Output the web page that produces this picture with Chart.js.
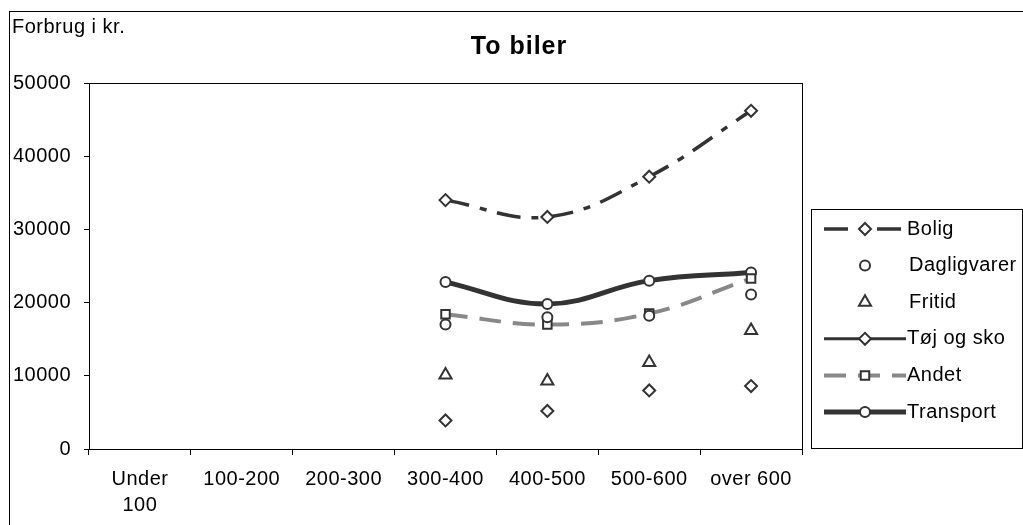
<!DOCTYPE html>
<html>
<head>
<meta charset="utf-8">
<script src="https://cdn.jsdelivr.net/npm/chart.js@4"></script>
<style>
  html, body { margin: 0; padding: 0; background: #fff; }
  #wrap { width: 1023px; height: 525px; position: relative; }
</style>
</head>
<body>
<div id="wrap"><canvas id="chart"></canvas></div>
<script>
const categories = [['Under', '100'], '100-200', '200-300', '300-400', '400-500', '500-600', 'over 600'];
const yTicks = [0, 10000, 20000, 30000, 40000, 50000];

const bolig       = [null, null, null, 34000, 31700, 37200, 46200];
const dagligvarer = [null, null, null, 17000, 18000, 18200, 21100];
const fritid      = [null, null, null, 10100, 9300, 11800, 16200];
const tojOgSko    = [null, null, null, 3900, 5200, 8000, 8600];
const andet       = [null, null, null, 18400, 17000, 18500, 23300];
const transport   = [null, null, null, 22800, 19800, 23000, 24100];

const FONT = '"Liberation Sans", Arial, sans-serif';
const INK = '#333';

function marker(style, radius) {
  return {
    pointStyle: style,
    pointRadius: radius,
    pointHoverRadius: radius,
    pointBackgroundColor: '#fff',
    pointBorderColor: INK,
    pointBorderWidth: 2
  };
}

const datasets = [
  Object.assign({ label: 'Bolig', data: bolig, borderColor: INK, borderWidth: 3.5,
    borderDash: [24, 11, 7, 11], tension: 0.4 }, marker('rectRot', 6)),
  Object.assign({ label: 'Dagligvarer', data: dagligvarer, showLine: false }, marker('circle', 5)),
  Object.assign({ label: 'Fritid', data: fritid, showLine: false }, marker('triangle', 7)),
  Object.assign({ label: 'Tøj og sko', data: tojOgSko, showLine: false, borderColor: INK,
    borderWidth: 3 }, marker('rectRot', 6)),
  Object.assign({ label: 'Andet', data: andet, borderColor: '#888', borderWidth: 4,
    borderDash: [22, 12], tension: 0.4 }, marker('rect', 6)),
  Object.assign({ label: 'Transport', data: transport, borderColor: INK, borderWidth: 5,
    tension: 0.4 }, marker('circle', 5))
];

// legend samples: which entries get a line next to the marker
const legendLine = [true, false, false, true, true, true];

// slightly wider letter spacing for all canvas text
const spacing = {
  id: 'spacing',
  beforeUpdate(chart) { chart.ctx.letterSpacing = '0.5px'; },
  beforeDraw(chart) { chart.ctx.letterSpacing = '0.5px'; }
};

// frame, plot box, title, axis caption and the legend box
const decorations = {
  id: 'decorations',
  beforeDatasetsDraw(chart) {
    const { ctx, chartArea: a } = chart;
    ctx.save();
    ctx.strokeStyle = '#000';
    ctx.lineWidth = 1;
    ctx.strokeRect(Math.round(a.left) + 0.5, Math.round(a.top) + 0.5,
      Math.round(a.right - a.left), Math.round(a.bottom - a.top));
    ctx.restore();
  },
  afterDraw(chart) {
    const { ctx } = chart;
    ctx.save();
    ctx.strokeStyle = '#000';
    ctx.lineWidth = 1;
    ctx.strokeRect(9.5, 11.5, 1100, 600);

    ctx.fillStyle = '#000';
    ctx.textBaseline = 'middle';
    ctx.textAlign = 'left';
    ctx.font = '20px ' + FONT;
    ctx.letterSpacing = '0.5px';
    ctx.fillText('Forbrug i kr.', 12, 27);
    ctx.textAlign = 'center';
    ctx.font = 'bold 25px ' + FONT;
    ctx.letterSpacing = '1px';
    ctx.fillText('To biler', 519, 47);

    // legend
    const lx = 811, ly = 209, lw = 211, lh = 239;
    ctx.strokeRect(lx + 0.5, ly + 0.5, lw, lh);
    ctx.font = '20px ' + FONT;
    ctx.letterSpacing = '0.5px';
    ctx.textAlign = 'left';
    chart.data.datasets.forEach((ds, i) => {
      const y = 229 + i * 36.6;
      if (legendLine[i]) {
        ctx.save();
        ctx.strokeStyle = ds.borderColor;
        ctx.lineWidth = ds.borderWidth;
        ctx.setLineDash(ds.borderDash || []);
        ctx.beginPath();
        ctx.moveTo(824, y);
        ctx.lineTo(906, y);
        ctx.stroke();
        ctx.restore();
      }
      ctx.save();
      ctx.fillStyle = '#fff';
      ctx.strokeStyle = INK;
      ctx.lineWidth = 2;
      Chart.helpers.drawPoint(ctx, { pointStyle: ds.pointStyle, radius: ds.pointRadius,
        rotation: 0, borderWidth: 2 }, 865, y);
      ctx.restore();
      ctx.fillStyle = '#000';
      ctx.fillText(ds.label, legendLine[i] ? 907 : 909, y);
    });
    ctx.restore();
  }
};

new Chart(document.getElementById('chart'), {
  type: 'line',
  data: { labels: categories, datasets: datasets },
  plugins: [spacing, decorations],
  options: {
    responsive: true,
    maintainAspectRatio: false,
    animation: false,
    layout: { padding: { left: 0, top: 83, right: 221, bottom: 0 } },
    plugins: { legend: { display: false }, title: { display: false }, tooltip: { enabled: false } },
    scales: {
      x: {
        type: 'category',
        offset: true,
        grid: { offset: true, drawOnChartArea: false, color: '#000', tickLength: 6 },
        border: { display: true, color: '#000' },
        ticks: { color: '#000', font: { family: FONT, size: 20, lineHeight: 1.3 }, padding: 11,
          maxRotation: 0, autoSkip: false },
        afterFit(scale) { scale.height = 76; }
      },
      y: {
        min: 0,
        max: 50000,
        afterBuildTicks(scale) { scale.ticks = yTicks.map(v => ({ value: v })); },
        grid: { drawOnChartArea: false, color: '#000', tickLength: 5 },
        border: { display: true, color: '#000' },
        ticks: { color: '#000', font: { family: FONT, size: 20 }, padding: 13,
          callback: v => String(v) },
        afterFit(scale) { scale.width = 89; }
      }
    }
  }
});
</script>
</body>
</html>
